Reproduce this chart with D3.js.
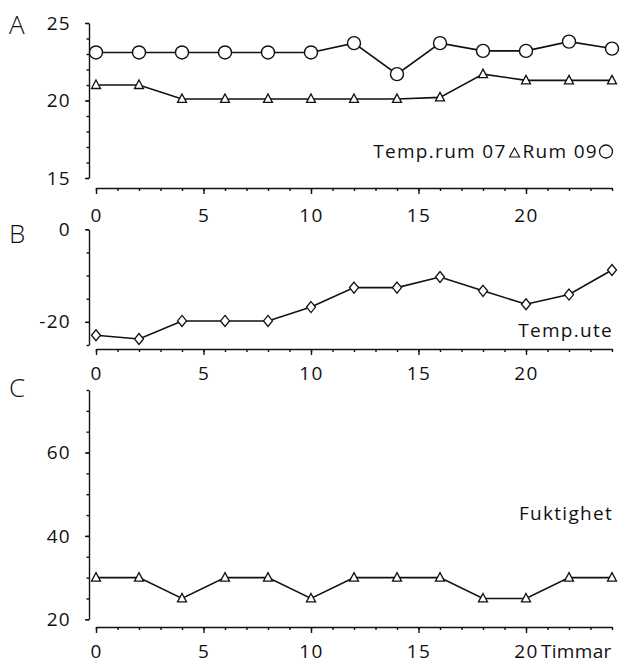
<!DOCTYPE html>
<html>
<head>
<meta charset="utf-8">
<script src="https://cdn.jsdelivr.net/npm/d3@7"></script>
<style>
  body { margin: 0; background: #fff; }
  svg { display: block; }
  text { font-family: "Open Sans", "DejaVu Sans", sans-serif; fill: #111; letter-spacing: 1.3px; }
  .axis path, .axis line { stroke: #111; stroke-width: 1.4; }
  .axis text { font-size: 19px; fill: #111; font-family: "Open Sans", "DejaVu Sans", sans-serif; }
</style>
</head>
<body>
<svg id="chart" width="620" height="665"></svg>
<script>
// hours of the day, one reading every second hour
const hours = [0, 2, 4, 6, 8, 10, 12, 14, 16, 18, 20, 22, 24];
// A: room temperatures
const rum090 = [23.1, 23.1, 23.1, 23.1, 23.1, 23.1, 23.7, 21.7, 23.7, 23.2, 23.2, 23.8, 23.35];
const rum07 = [21, 21, 20.1, 20.1, 20.1, 20.1, 20.1, 20.1, 20.2, 21.7, 21.3, 21.3, 21.3];
// B: outdoor temperature
const tempUte = [-22.9, -23.7, -19.8, -19.8, -19.8, -16.8, -12.6, -12.6, -10.3, -13.3, -16.2, -14.1, -8.8];
// C: humidity
const fuktighet = [30, 30, 25, 30, 30, 25, 30, 30, 30, 25, 25, 30, 30];

const xTickLabels = [0, 5, 10, 15, 20];
const yTicksA = [15, 20, 25];
const yTicksB = [-20, 0];
const yTicksC = [20, 40, 60];

let svg = d3.select('#chart');
let x = d3.scaleLinear().domain([0, 24]).range([96, 612]);

let panels = [
    { letter: 'A', letterY: 25, domain: [15, 25], range: [178, 23], minorStep: 1, ticks: yTicksA, xAxisY: 188, xPad: 14.5 },
    { letter: 'B', letterY: 234, domain: [-25, 0], range: [345, 229.3], minorStep: 5, ticks: yTicksB, xAxisY: 349, xPad: 12 },
    { letter: 'C', letterY: 388, domain: [20, 75], range: [619.3, 390], minorStep: 5, ticks: yTicksC, xAxisY: 627, xPad: 12 }
];

panels.forEach(p => {
    p.y = d3.scaleLinear().domain(p.domain).range(p.range);
    let g = svg.append('g');

    // panel letter
    g.append('text')
        .attr('x', 9).attr('y', p.letterY)
        .attr('dy', '0.36em')
        .style('font-size', '26px')
        .style('font-weight', 300)
        .style('letter-spacing', '0px')
        .text(p.letter);

    // y axis: minor ticks, then labelled ticks
    g.append('g').attr('class', 'axis')
        .attr('transform', 'translate(89,0)')
        .call(d3.axisLeft(p.y)
            .tickValues(d3.range(p.domain[0], p.domain[1] + 0.01, p.minorStep))
            .tickSize(2.5).tickSizeOuter(0).tickFormat(''));
    g.append('g').attr('class', 'axis')
        .attr('transform', 'translate(89,0)')
        .call(d3.axisLeft(p.y)
            .tickValues(p.ticks)
            .tickSize(4).tickSizeOuter(0).tickPadding(14)
            .tickFormat(d => String(d)))
        .select('.domain').remove();

    // x axis under each panel
    g.append('g').attr('class', 'axis')
        .attr('transform', 'translate(0,' + p.xAxisY + ')')
        .call(d3.axisBottom(x)
            .tickValues(d3.range(0, 25, 1))
            .tickSize(3).tickSizeOuter(0).tickFormat(''));
    g.append('g').attr('class', 'axis')
        .attr('transform', 'translate(0,' + p.xAxisY + ')')
        .call(d3.axisBottom(x)
            .tickValues(xTickLabels)
            .tickSize(6).tickSizeOuter(0).tickPadding(p.xPad)
            .tickFormat(d3.format('d')))
        .select('.domain').remove();
});

function drawSeries(p, values, shape) {
    let line = d3.line()
        .x((d, i) => x(hours[i]))
        .y(d => p.y(d));
    svg.append('path')
        .datum(values)
        .attr('fill', 'none')
        .attr('stroke', '#111')
        .attr('stroke-width', 1.6)
        .attr('d', line);
    let marks = svg.append('g');
    values.forEach((v, i) => {
        let cx = x(hours[i]), cy = p.y(v);
        if (shape === 'circle') {
            marks.append('circle').attr('cx', cx).attr('cy', cy).attr('r', 6.5)
                .attr('fill', '#fff').attr('stroke', '#111').attr('stroke-width', 1.4);
        } else if (shape === 'triangle') {
            marks.append('path')
                .attr('d', `M${cx},${cy - 5}L${cx + 4.5},${cy + 3.5}L${cx - 4.5},${cy + 3.5}Z`)
                .attr('fill', '#fff').attr('stroke', '#111').attr('stroke-width', 1.3);
        } else {
            marks.append('path')
                .attr('d', `M${cx},${cy - 5.5}L${cx + 4.5},${cy}L${cx},${cy + 5.5}L${cx - 4.5},${cy}Z`)
                .attr('fill', '#fff').attr('stroke', '#111').attr('stroke-width', 1.3);
        }
    });
}

drawSeries(panels[0], rum090, 'circle');
drawSeries(panels[0], rum07, 'triangle');
drawSeries(panels[1], tempUte, 'diamond');
drawSeries(panels[2], fuktighet, 'triangle');

// series label for panel A, laid out right to left
let legendA = svg.append('g').style('font-size', '19px');
legendA.append('circle').attr('cx', 606).attr('cy', 151.5).attr('r', 6.5)
    .attr('fill', '#fff').attr('stroke', '#111').attr('stroke-width', 1.3);
let rum = legendA.append('text').attr('x', 598).attr('y', 158).attr('text-anchor', 'end').text('Rum 09');
let rumStart = 598 - rum.node().getComputedTextLength();
let tx = rumStart - 8;
legendA.append('path').attr('d', `M${tx},148L${tx + 5},157L${tx - 5},157Z`)
    .attr('fill', '#fff').attr('stroke', '#111').attr('stroke-width', 1.1);
legendA.append('text').attr('x', tx - 8).attr('y', 158).attr('text-anchor', 'end').text('Temp.rum 07');

svg.append('text').attr('x', 613).attr('y', 337).attr('text-anchor', 'end')
    .style('font-size', '19px').text('Temp.ute');
svg.append('text').attr('x', 613).attr('y', 520).attr('text-anchor', 'end')
    .style('font-size', '19px').text('Fuktighet');
svg.append('text').attr('x', 541).attr('y', 658)
    .style('font-size', '19px').style('letter-spacing', '0.3px').text('Timmar');
</script>
</body>
</html>
